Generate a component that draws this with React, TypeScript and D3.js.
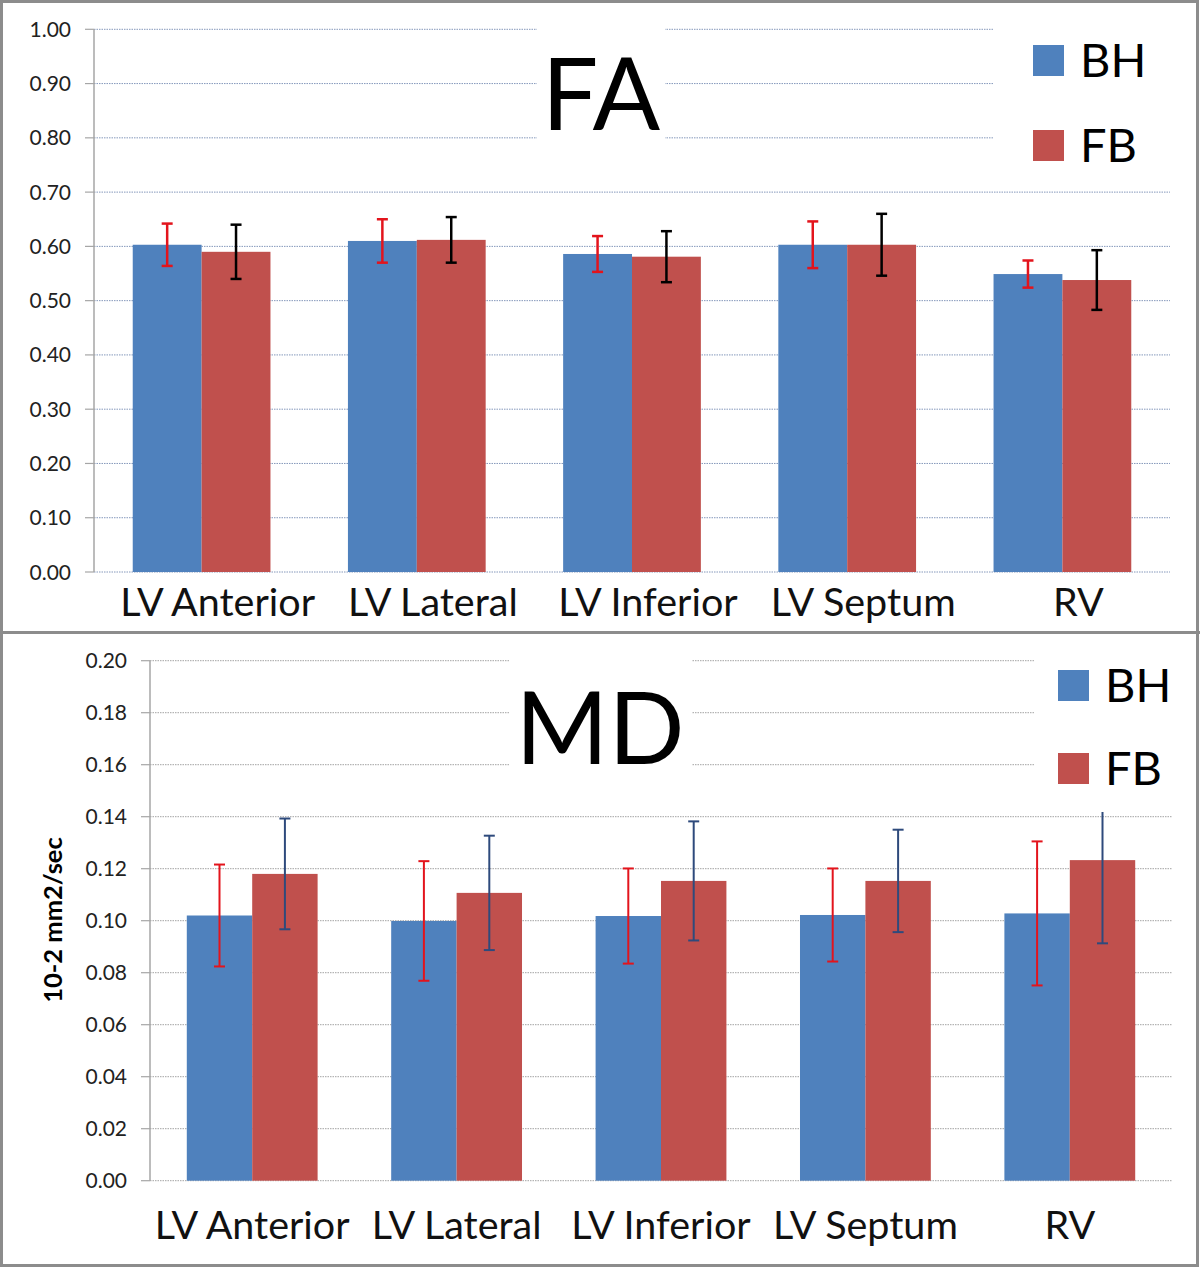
import * as d3 from "d3";

// ---------------------------------------------------------------------------
// Data
// ---------------------------------------------------------------------------

const categories = ["LV Anterior", "LV Lateral", "LV Inferior", "LV Septum", "RV"];
const seriesNames = ["BH", "FB"];

const faBH = [0.603, 0.61, 0.586, 0.603, 0.549];
const faBHErr = [0.039, 0.04, 0.033, 0.043, 0.025];
const faFB = [0.59, 0.612, 0.581, 0.603, 0.538];
const faFBErr = [0.05, 0.042, 0.047, 0.057, 0.055];

const mdBH = [0.102, 0.0999, 0.1018, 0.1022, 0.1028];
const mdBHErr = [0.0196, 0.023, 0.0183, 0.0179, 0.0277];
const mdFB = [0.118, 0.1107, 0.1153, 0.1153, 0.1233];
const mdFBErr = [0.0213, 0.022, 0.0229, 0.0197, 0.032];

const faTicks = [0, 0.1, 0.2, 0.3, 0.4, 0.5, 0.6, 0.7, 0.8, 0.9, 1.0];
const mdTicks = [0, 0.02, 0.04, 0.06, 0.08, 0.1, 0.12, 0.14, 0.16, 0.18, 0.2];

const BAR_COLORS = ["#4f81bd", "#c0504d"];
const FONT = "Lato, 'Open Sans', sans-serif";

type Box = { x: number; y: number; w: number; h: number };

type PanelProps = {
  title: string;
  values: number[][];
  errors: number[][];
  errColors: string[];
  errWidth: number;
  ticks: number[];
  left: number;
  right: number;
  y0: number;
  y1: number;
  gridColor: string;
  tickFont: number;
  catBaseline: number;
  catShift: number;
  titleX: number;
  titleBaseline: number;
  titleBox: Box;
  legendBox: Box;
  legendX: number;
  legendY: number[];
  yLabel?: { text: string; x: number; y: number };
};

function Panel(p: PanelProps) {
  const x0 = d3.scaleBand<string>().domain(categories).range([p.left, p.right]);
  const x1 = d3
    .scaleBand<string>()
    .domain(seriesNames)
    .range([0, x0.bandwidth()])
    .paddingInner(0)
    .paddingOuter(0.5625);
  const y = d3
    .scaleLinear()
    .domain([0, p.ticks[p.ticks.length - 1]])
    .range([p.y0, p.y1]);
  const capW = 11;

  return (
    <g>
      {/* gridlines + y ticks */}
      {p.ticks.map((t) => (
        <g key={`g${t}`}>
          <line
            x1={p.left}
            x2={p.right}
            y1={y(t)}
            y2={y(t)}
            stroke={p.gridColor}
            strokeWidth={1}
            strokeDasharray="1.5 1"
          />
          <line x1={p.left - 9} x2={p.left} y1={y(t)} y2={y(t)} stroke="#a6a6a6" strokeWidth={1.2} />
          <text
            x={p.left - 23}
            y={y(t)}
            dy="0.36em"
            textAnchor="end"
            fontSize={p.tickFont}
            fontFamily={FONT}
            fill="#222"
          >
            {t.toFixed(2)}
          </text>
        </g>
      ))}

      {/* y axis */}
      <line x1={p.left} x2={p.left} y1={p.y1} y2={p.y0} stroke="#a6a6a6" strokeWidth={1.5} />

      {/* bars */}
      {categories.map((c, ci) => (
        <g key={c} transform={`translate(${x0(c)},0)`}>
          {seriesNames.map((s, si) => (
            <rect
              key={s}
              x={x1(s)}
              y={y(p.values[si][ci])}
              width={x1.bandwidth()}
              height={p.y0 - y(p.values[si][ci])}
              fill={BAR_COLORS[si]}
            />
          ))}
        </g>
      ))}

      {/* error bars */}
      {categories.map((c, ci) => (
        <g key={`e${c}`} transform={`translate(${x0(c)},0)`}>
          {seriesNames.map((s, si) => {
            const cx = (x1(s) ?? 0) + x1.bandwidth() / 2;
            const v = p.values[si][ci];
            const e = p.errors[si][ci];
            const col = p.errColors[si];
            return (
              <g key={s} stroke={col} strokeWidth={p.errWidth}>
                <line x1={cx} x2={cx} y1={y(v + e)} y2={y(v - e)} />
                <line x1={cx - capW / 2} x2={cx + capW / 2} y1={y(v + e)} y2={y(v + e)} />
                <line x1={cx - capW / 2} x2={cx + capW / 2} y1={y(v - e)} y2={y(v - e)} />
              </g>
            );
          })}
        </g>
      ))}

      {/* category labels */}
      {categories.map((c) => (
        <text
          key={`l${c}`}
          x={(x0(c) ?? 0) + x0.bandwidth() / 2 + p.catShift}
          y={p.catBaseline}
          textAnchor="middle"
          fontSize={39.5}
          fontFamily={FONT}
          fill="#111"
        >
          {c}
        </text>
      ))}

      {/* title box + title */}
      <rect x={p.titleBox.x} y={p.titleBox.y} width={p.titleBox.w} height={p.titleBox.h} fill="#fff" />
      <text
        x={p.titleX}
        y={p.titleBaseline}
        textAnchor="middle"
        fontSize={100}
        fontFamily={FONT}
        fill="#000"
      >
        {p.title}
      </text>

      {/* legend */}
      <rect x={p.legendBox.x} y={p.legendBox.y} width={p.legendBox.w} height={p.legendBox.h} fill="#fff" />
      {seriesNames.map((s, si) => (
        <g key={`lg${s}`}>
          <rect x={p.legendX} y={p.legendY[si]} width={31} height={31} fill={BAR_COLORS[si]} />
          <text
            x={p.legendX + 47}
            y={p.legendY[si] + 15.5}
            dy="0.36em"
            fontSize={47}
            fontFamily={FONT}
            fill="#000"
          >
            {s}
          </text>
        </g>
      ))}

      {p.yLabel && (
        <text
          transform={`translate(${p.yLabel.x},${p.yLabel.y}) rotate(-90)`}
          textAnchor="middle"
          dy="0.36em"
          fontSize={25.5}
          fontWeight="bold"
          fontFamily={FONT}
          fill="#000"
        >
          {p.yLabel.text}
        </text>
      )}
    </g>
  );
}

export default function App() {
  return (
    <svg
      width={1200}
      height={1268}
      style={{ position: "absolute", left: 0, top: 0, background: "#fff" }}
    >
      <rect x={0} y={0} width={1200} height={1268} fill="#fff" />

      <Panel
        title="FA"
        values={[faBH, faFB]}
        errors={[faBHErr, faFBErr]}
        errColors={["#e3141c", "#000000"]}
        errWidth={2.5}
        ticks={faTicks}
        left={94}
        right={1170}
        y0={572}
        y1={29.3}
        gridColor="#8598bb"
        tickFont={21}
        catBaseline={616}
        catShift={16}
        titleX={601}
        titleBaseline={130}
        titleBox={{ x: 537, y: 18, w: 128, h: 150 }}
        legendBox={{ x: 993, y: 18, w: 185, h: 150 }}
        legendX={1033}
        legendY={[45, 130]}
      />

      <Panel
        title="MD"
        values={[mdBH, mdFB]}
        errors={[mdBHErr, mdFBErr]}
        errColors={["#e3141c", "#2e4a7c"]}
        errWidth={2}
        ticks={mdTicks}
        left={150}
        right={1172}
        y0={1180.7}
        y1={660.7}
        gridColor="#a3a3a3"
        tickFont={21}
        catBaseline={1239}
        catShift={0}
        titleX={600}
        titleBaseline={764}
        titleBox={{ x: 510, y: 648, w: 182, h: 142 }}
        legendBox={{ x: 1034, y: 648, w: 145, h: 164 }}
        legendX={1058}
        legendY={[670, 753]}
        yLabel={{ text: "10-2 mm2/sec", x: 53, y: 920 }}
      />

      {/* frame */}
      <rect x={1.5} y={1.5} width={1196} height={1264} fill="none" stroke="#8c8c8c" strokeWidth={3} />
      <line x1={0} x2={1200} y1={632.5} y2={632.5} stroke="#8c8c8c" strokeWidth={3} />
    </svg>
  );
}
